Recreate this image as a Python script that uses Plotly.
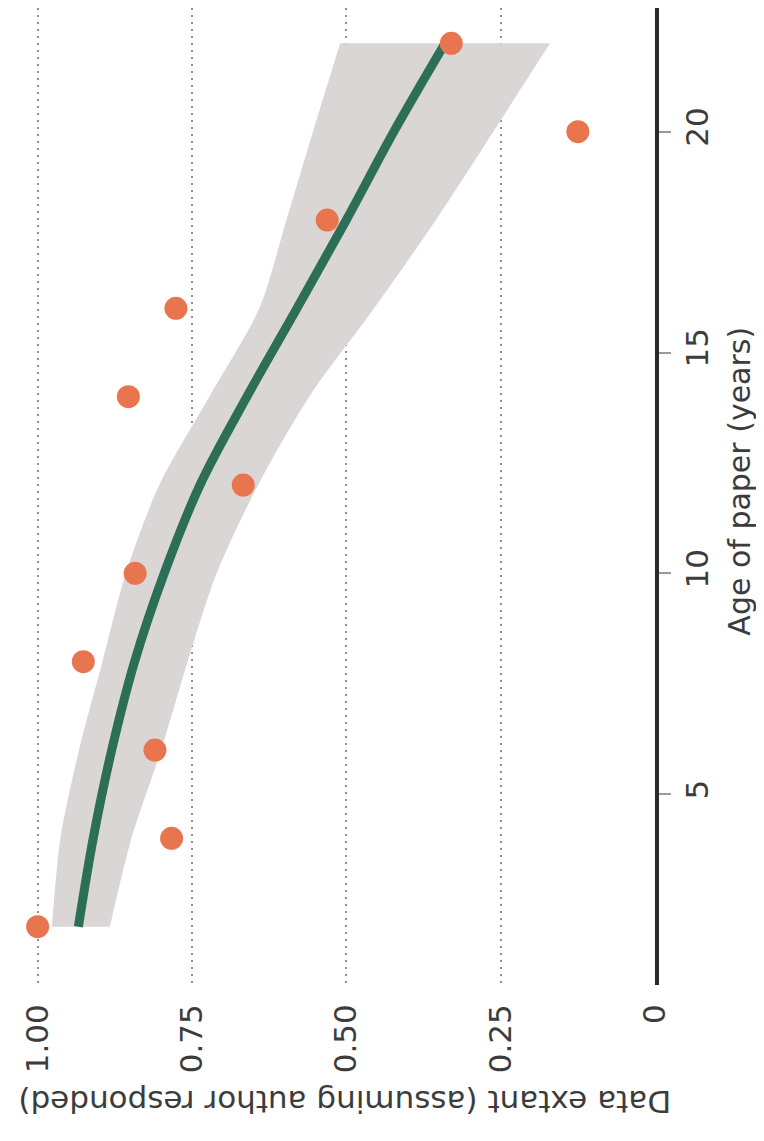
import plotly.graph_objects as go

# ---- data ----
ages = [2, 4, 6, 8, 10, 12, 14, 16, 18, 20, 22]
extant = [1.00, 0.783, 0.810, 0.926, 0.842, 0.667, 0.853, 0.776, 0.531, 0.125, 0.330]

fit_ages = [2, 4, 6, 8, 10, 12, 14, 16, 18, 20, 22]
fit_vals = [0.934, 0.910, 0.880, 0.843, 0.795, 0.737, 0.661, 0.580, 0.500, 0.423, 0.340]
band_upper = [0.977, 0.963, 0.933, 0.895, 0.857, 0.803, 0.722, 0.641, 0.597, 0.554, 0.510]
band_lower = [0.883, 0.848, 0.800, 0.757, 0.710, 0.643, 0.560, 0.455, 0.355, 0.262, 0.170]

extent_ticks = [0, 0.25, 0.5, 0.75, 1.0]
extent_labels = ["0", "0.25", "0.50", "0.75", "1.00"]
age_ticks = [5, 10, 15, 20]
age_labels = ["5", "10", "15", "20"]

FONT = "DejaVu Sans"
TXT = "#3c3c3c"

fig = go.Figure()

# confidence band: lower edge, then upper edge filled to it
fig.add_trace(go.Scatter(
    x=band_lower, y=fit_ages, mode="lines",
    line=dict(width=0, shape="spline", smoothing=0.8, color="#d9d6d5"),
    hoverinfo="skip", showlegend=False,
))
fig.add_trace(go.Scatter(
    x=band_upper, y=fit_ages, mode="lines",
    line=dict(width=0, shape="spline", smoothing=0.8, color="#d9d6d5"),
    fill="tonextx", fillcolor="#d9d6d5",
    hoverinfo="skip", showlegend=False,
))
# fitted curve
fig.add_trace(go.Scatter(
    x=fit_vals, y=fit_ages, mode="lines",
    line=dict(color="#2d6e57", width=9, shape="spline"),
    showlegend=False,
))
# observed points
fig.add_trace(go.Scatter(
    x=extant, y=ages, mode="markers",
    marker=dict(color="#e8754e", size=23, line=dict(width=0)),
    showlegend=False, cliponaxis=False,
))

fig.update_layout(
    width=756, height=1133,
    margin=dict(l=0, r=109, t=0, b=156, autoexpand=False),
    paper_bgcolor="white", plot_bgcolor="white",
    font=dict(family=FONT, color=TXT, size=31),
    xaxis=dict(
        range=[1.048, 0], tickvals=extent_ticks, ticktext=extent_labels,
        tickangle=-90, ticks="", showline=False, zeroline=False,
        showgrid=True, gridcolor="#8f8f8f", gridwidth=2, griddash="2px,5px",
        tickfont=dict(size=31, color=TXT, family=FONT),
        ticklabelstandoff=12,
    ),
    yaxis=dict(
        range=[0.68, 22.80], side="right", tickvals=age_ticks, ticktext=age_labels,
        tickangle=-90, ticks="outside", ticklen=12, tickwidth=1.5, tickcolor="#9a9a9a",
        showline=True, linecolor="#2a2a2a", linewidth=3.5,
        showgrid=False, zeroline=False,
        tickfont=dict(size=31, color=TXT, family=FONT),
    ),
    annotations=[
        dict(text="Age of paper (years)", xref="paper", yref="paper",
             x=1.131, y=0.516, showarrow=False, textangle=-90,
             xanchor="center", yanchor="middle",
             font=dict(size=30, color=TXT, family=FONT)),
        dict(text="Data extant (assuming author responded)", xref="paper", yref="paper",
             x=0.521, y=-0.119, showarrow=False, textangle=180,
             xanchor="center", yanchor="middle",
             font=dict(size=31, color=TXT, family=FONT)),
    ],
)

fig.write_html("out.html")
